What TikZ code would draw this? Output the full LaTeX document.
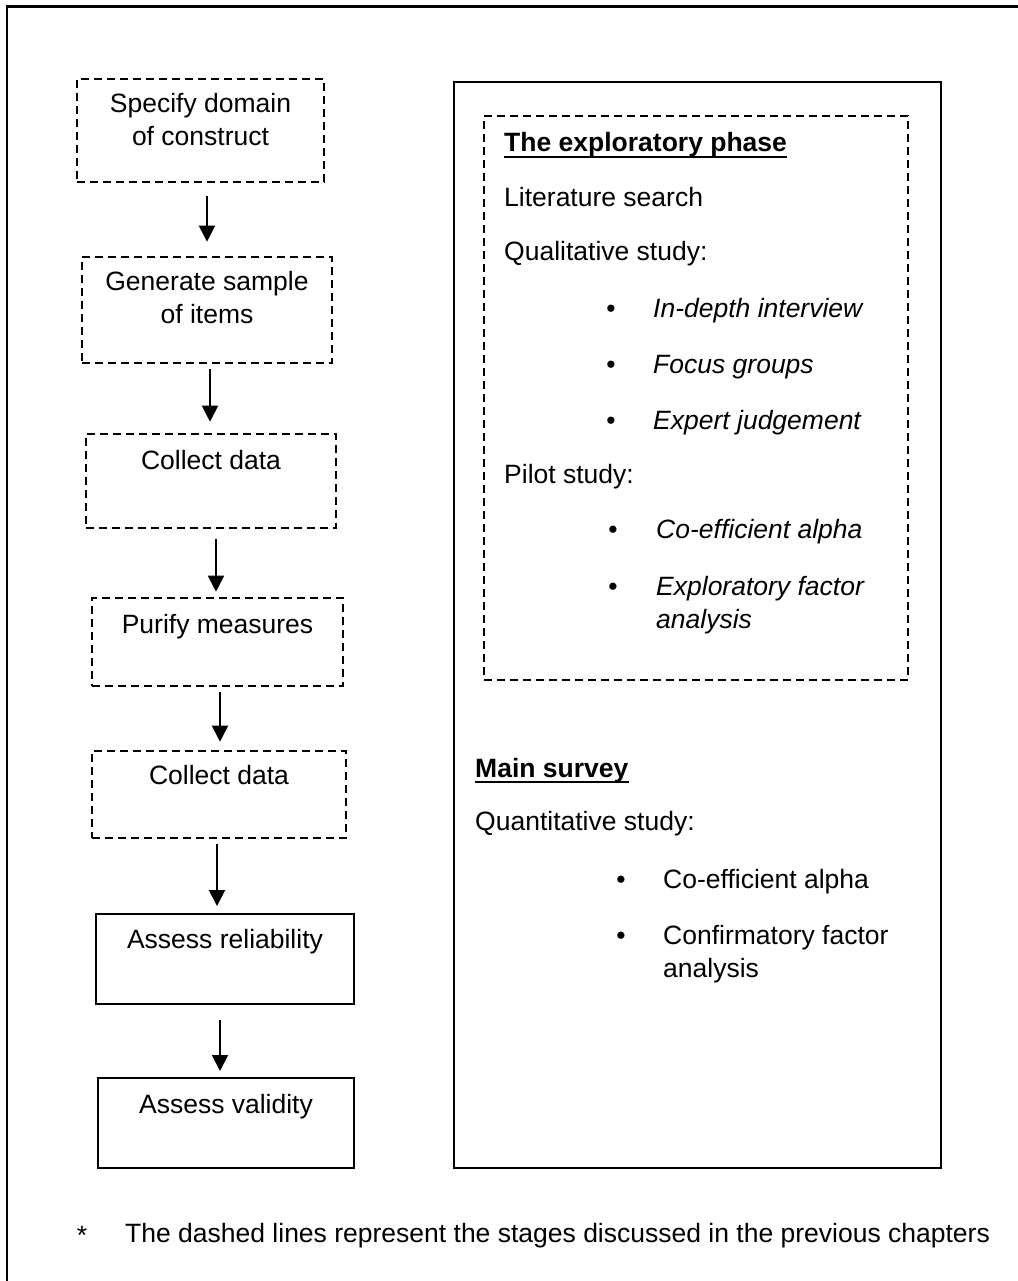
\documentclass[tikz,border=0pt]{standalone}
\usepackage{fontspec}
\setmainfont{Liberation Sans}
\usetikzlibrary{arrows.meta,fit,calc}
\begin{document}
\begin{tikzpicture}[x=1pt,y=-1pt,
  dbox/.style={draw, line width=2.6pt, dash pattern=on 8pt off 5pt, inner sep=0pt},
  sbox/.style={draw, line width=2pt, inner sep=0pt},
  lbl/.style={inner sep=0pt, font=\fontsize{26.5}{33}\selectfont, align=center, anchor=base},
  txt/.style={inner sep=0pt, font=\fontsize{26.5}{33}\selectfont, anchor=base west, align=left},
  itxt/.style={inner sep=0pt, font=\fontsize{26.5}{33}\selectfont\itshape, anchor=base west, align=left},
  bul/.style={inner sep=0pt, font=\fontsize{26.5}{33}\selectfont, anchor=base},
  arr/.style={line width=1.9pt, -{Triangle[length=16pt,width=16pt]}}
]
\useasboundingbox (0,0) rectangle (1017,1281);
\fill[white] (0,0) rectangle (1017,1281);
% outer frame (top and left only)
\draw[line width=2.2pt] (7,1290) -- (7,6.5) -- (1030,6.5);

% left column boxes
\node[dbox, fit={(77,79) (324,182)}] (b1) {};
\node[dbox, fit={(82,257) (332,363)}] (b2) {};
\node[dbox, fit={(86,434) (336,528)}] (b3) {};
\node[dbox, fit={(92,598) (343,686)}] (b4) {};
\node[dbox, fit={(92,751) (346,838)}] (b5) {};
\node[sbox, fit={(96,914) (354,1004)}] (b6) {};
\node[sbox, fit={(98,1078) (354,1168)}] (b7) {};

\node[lbl] (t1) at (200.5,146) {Specify domain\\of construct};
\node[lbl] (t2) at (207,323) {Generate sample\\of items};
\node[lbl] (t3) at (211,469) {Collect data};
\node[lbl] (t4) at (217.5,633) {Purify measures};
\node[lbl] (t5) at (219,784) {Collect data};
\node[lbl] (t6) at (225,948) {Assess reliability};
\node[lbl] (t7) at (226,1113) {Assess validity};

% arrows
\draw[arr] ($(b1.south)+(6.5,13)$) -- ($(b2.north)+(0,-14)$);
\draw[arr] ($(b2.south)+(3,5)$) -- ($(b3.north)+(-1,-11)$);
\draw[arr] ($(b3.south)+(5,10)$) -- ($(b4.north)+(-1.5,-5)$);
\draw[arr] ($(b4.south)+(2.5,5)$) -- ($(b5.north)+(1,-8)$);
\draw[arr] ($(b5.south)+(-2,5)$) -- ($(b6.north)+(-8,-7)$);
\draw[arr] ($(b6.south)+(-5,15)$) -- ($(b7.north)+(-6,-6)$);

% right box
\node[sbox, fit={(454,82) (941,1168)}] (rb) {};
\node[dbox, fit={(484,116) (908,680)}] (eb) {};

\node[txt, font=\fontsize{26.5}{33}\selectfont\bfseries] (h1) at (504,152) {The exploratory phase};
\draw[line width=2.2pt] ([yshift=-5pt]h1.base west) -- ([yshift=-5pt]h1.base east);
\node[txt] (l1) at (504,207) {Literature search};
\node[txt] (l2) at (504,260) {Qualitative study:};
\node[bul] (u1) at (611,317) {•};
\node[itxt] (i1) at (653,317) {In-depth interview};
\node[bul] (u2) at (611,373) {•};
\node[itxt] (i2) at (653,373) {Focus groups};
\node[bul] (u3) at (611,429) {•};
\node[itxt] (i3) at (653,429) {Expert judgement};
\node[txt] (l3) at (504,483) {Pilot study:};
\node[bul] (u4) at (613,538) {•};
\node[itxt] (i4) at (656,538) {Co-efficient alpha};
\node[bul] (u5) at (613,595) {•};
\node[itxt] (i5) at (656,628) {Exploratory factor\\analysis};

\node[txt, font=\fontsize{26.5}{33}\selectfont\bfseries] (h2) at (475,777) {Main survey};
\draw[line width=2.2pt] ([yshift=-5pt]h2.base west) -- ([yshift=-5pt]h2.base east);
\node[txt] (l4) at (475,830) {Quantitative study:};
\node[bul] (u6) at (621,888) {•};
\node[txt] (m1) at (663,888) {Co-efficient alpha};
\node[bul] (u7) at (621,944) {•};
\node[txt] (m2) at (663,977) {Confirmatory factor\\analysis};

% footnote
\node[bul] (ast) at (82,1244) {*};
\node[txt] (fn) at (125,1242) {The dashed lines represent the stages discussed in the previous chapters};
\end{tikzpicture}
\end{document}
